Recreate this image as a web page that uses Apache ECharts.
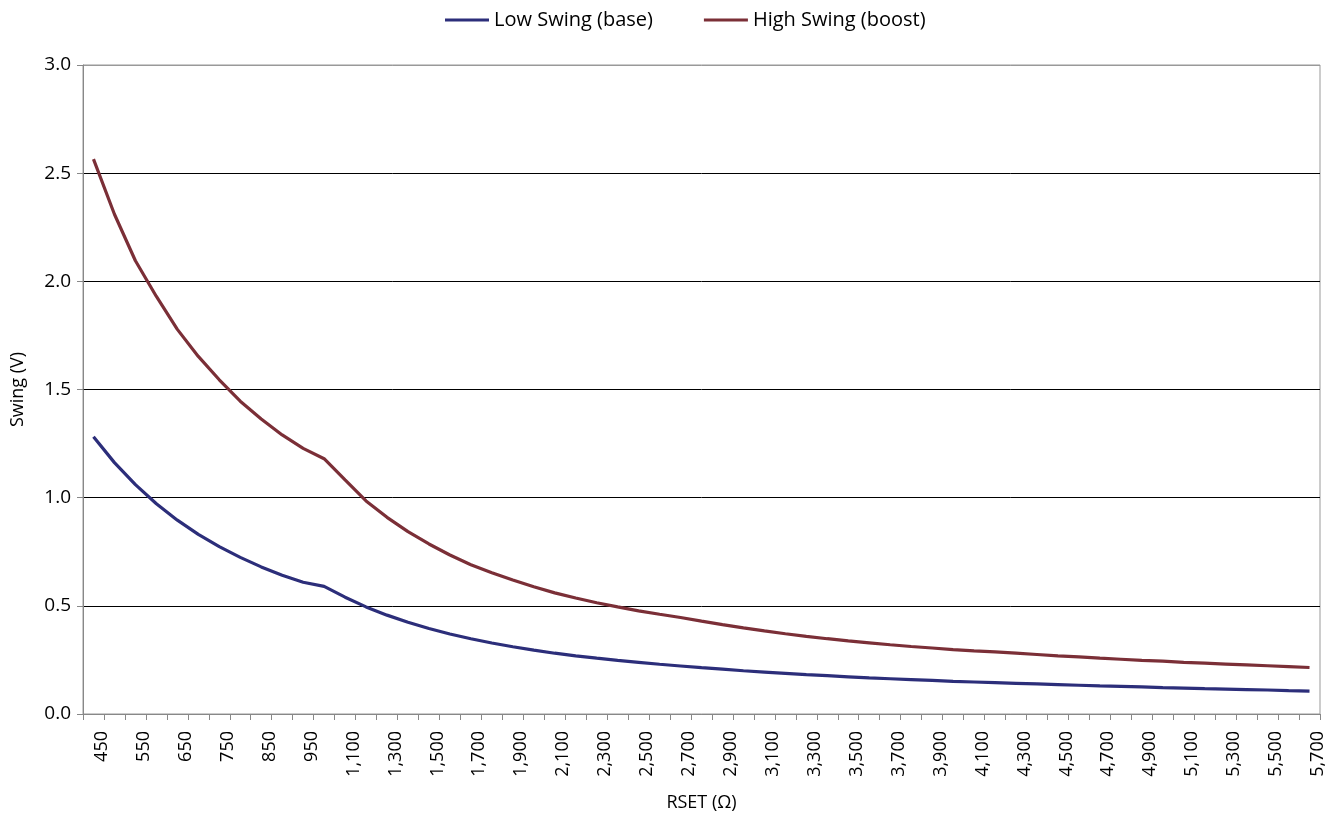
<!DOCTYPE html>
<html>
<head>
<meta charset="utf-8">
<script src="https://cdn.jsdelivr.net/npm/echarts@6/dist/echarts.min.js"></script>
<style>
html,body{margin:0;padding:0;background:#fff;}
#chart{width:1336px;height:818px;}
</style>
</head>
<body>
<div id="chart"></div>
<script>
// RSET categories (ohms)
var rset = [450,500,550,600,650,700,750,800,850,900,950,1000,
  1100,1200,1300,1400,1500,1600,1700,1800,1900,2000,
  2100,2200,2300,2400,2500,2600,2700,2800,2900,3000,
  3100,3200,3300,3400,3500,3600,3700,3800,3900,4000,
  4100,4200,4300,4400,4500,4600,4700,4800,4900,5000,
  5100,5200,5300,5400,5500,5600,5700];

var lowSwing = [1.282,1.162,1.060,0.972,0.896,0.830,0.774,0.724,0.680,0.641,0.609,0.590,
  0.540,0.495,0.457,0.424,0.395,0.370,0.348,0.328,0.311,0.295,
  0.281,0.269,0.258,0.248,0.239,0.230,0.222,0.214,0.207,0.200,
  0.194,0.188,0.182,0.177,0.172,0.167,0.163,0.159,0.155,0.151,
  0.148,0.145,0.142,0.139,0.136,0.133,0.130,0.128,0.125,0.122,
  0.120,0.117,0.115,0.113,0.111,0.108,0.106];

var highSwing = [2.565,2.310,2.095,1.930,1.778,1.653,1.545,1.446,1.364,1.290,1.228,1.180,
  1.082,0.985,0.909,0.843,0.786,0.735,0.690,0.653,0.619,0.588,
  0.560,0.536,0.514,0.495,0.477,0.461,0.446,0.429,0.413,0.398,
  0.384,0.371,0.359,0.348,0.338,0.329,0.320,0.312,0.305,0.298,
  0.292,0.287,0.281,0.275,0.269,0.264,0.258,0.253,0.248,0.244,
  0.239,0.235,0.231,0.227,0.223,0.219,0.215];

var yTicks = [0, 0.5, 1.0, 1.5, 2.0, 2.5, 3.0];
var seriesNames = ['Low Swing (base)', 'High Swing (boost)'];
var seriesColors = ['#2C2E7A', '#7B2F37'];

var FONT = '"Open Sans", "Noto Sans", sans-serif';
var chart = echarts.init(document.getElementById('chart'), null, {renderer: 'canvas'});

function fmtNum(v) {
  return Number(v).toLocaleString('en-US');
}

chart.setOption({
  animation: false,
  backgroundColor: '#ffffff',
  textStyle: {fontFamily: FONT, color: '#000'},
  legend: {
    data: seriesNames,
    left: 440,
    top: 5,
    icon: 'rect',
    itemWidth: 44,
    itemHeight: 3,
    itemGap: 51,
    textStyle: {fontFamily: FONT, fontSize: 20, color: '#000'}
  },
  grid: {
    left: 83, right: 16, top: 65, bottom: 104,
    show: true, borderColor: '#999', borderWidth: 1, backgroundColor: 'transparent'
  },
  xAxis: {
    type: 'category',
    data: rset,
    boundaryGap: true,
    name: 'RSET (\u03A9)',
    nameLocation: 'middle',
    nameGap: 80,
    nameTextStyle: {fontFamily: FONT, fontSize: 18, color: '#000'},
    axisLine: {show: true, lineStyle: {color: '#888', width: 1}},
    axisTick: {show: true, interval: 0, length: 6, lineStyle: {color: '#888'}},
    axisLabel: {
      interval: 1,
      rotate: 90,
      margin: 17,
      verticalAlign: 'top',
      lineHeight: 17,
      fontFamily: FONT,
      fontSize: 18,
      color: '#000',
      formatter: function (v) { return fmtNum(v); }
    },
    splitLine: {show: false}
  },
  yAxis: {
    type: 'value',
    min: yTicks[0],
    max: yTicks[yTicks.length - 1],
    interval: 0.5,
    name: 'Swing (V)',
    nameLocation: 'middle',
    nameGap: 56,
    nameTextStyle: {fontFamily: FONT, fontSize: 18, color: '#000'},
    axisLine: {show: true, lineStyle: {color: '#888', width: 1}},
    axisTick: {show: true, length: 6, lineStyle: {color: '#888'}},
    axisLabel: {
      margin: 12,
      fontFamily: FONT,
      fontSize: 19,
      color: '#000',
      formatter: function (v) { return v.toFixed(1); }
    },
    splitLine: {
      show: true,
      lineStyle: {color: ['#888', '#000', '#000', '#000', '#000', '#000', '#999'], width: 1}
    }
  },
  series: [
    {
      name: seriesNames[0],
      type: 'line',
      data: lowSwing,
      showSymbol: false,
      symbol: 'none',
      smooth: false,
      lineStyle: {color: seriesColors[0], width: 3.2},
      itemStyle: {color: seriesColors[0]}
    },
    {
      name: seriesNames[1],
      type: 'line',
      data: highSwing,
      showSymbol: false,
      symbol: 'none',
      smooth: false,
      lineStyle: {color: seriesColors[1], width: 3.2},
      itemStyle: {color: seriesColors[1]}
    }
  ]
});
</script>
</body>
</html>
